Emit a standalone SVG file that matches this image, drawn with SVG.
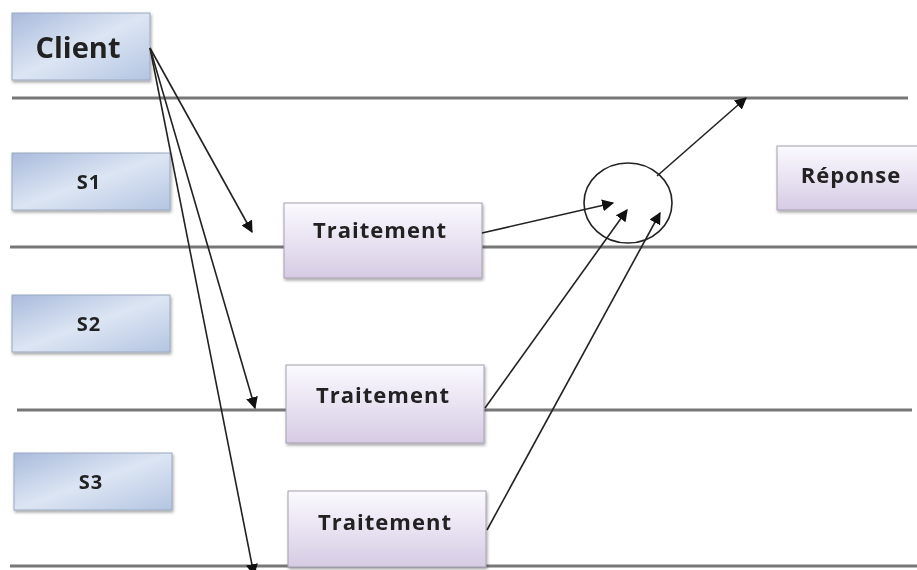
<svg xmlns="http://www.w3.org/2000/svg" width="917" height="570" viewBox="0 0 917 570">
<style>
.lane{stroke:#777;stroke-width:3;fill:none}
.conn{stroke:#222;stroke-width:1.6;fill:none;marker-end:url(#ah)}
.blue{fill:url(#gb);stroke:#9aa8bf;stroke-width:1}
.purp{fill:url(#gp);stroke:#a59fb0;stroke-width:1}
.t{font-family:"Open Sans","Liberation Sans",sans-serif;font-weight:bold;fill:#222;text-anchor:middle}
</style>
<defs>
<linearGradient id="gb" x1="0" y1="0" x2="1" y2="1">
<stop offset="0" stop-color="#a9bbdc"/>
<stop offset="0.5" stop-color="#dce5f3"/>
<stop offset="1" stop-color="#b4c5e2"/>
</linearGradient>
<linearGradient id="gp" x1="0" y1="0" x2="0" y2="1">
<stop offset="0" stop-color="#fbfaff"/>
<stop offset="1" stop-color="#d6cbe4"/>
</linearGradient>
<filter id="sh" x="-10%" y="-10%" width="130%" height="140%">
<feDropShadow dx="1" dy="2" stdDeviation="1.5" flood-color="#000" flood-opacity="0.35"/>
</filter>
<marker id="ah" viewBox="0 0 10 10" refX="9" refY="5" markerWidth="12" markerHeight="12" markerUnits="userSpaceOnUse" orient="auto">
<path d="M0,0 L10,5 L0,10 z" fill="#111"/>
</marker>
</defs>
<g id="lanes">
<line class="lane" x1="12" y1="98" x2="908" y2="98"/>
<line class="lane" x1="10" y1="247" x2="917" y2="247"/>
<line class="lane" x1="17" y1="410" x2="912" y2="410"/>
<line class="lane" x1="10" y1="566" x2="917" y2="566"/>
</g>
<g id="client" filter="url(#sh)"><rect class="blue" x="12" y="13" width="138" height="67"/><text class="t" x="78" y="58" font-size="29">Client</text></g>
<g id="s1" filter="url(#sh)"><rect class="blue" x="12" y="153" width="158" height="57"/><text class="t" x="89" y="189" font-size="20" letter-spacing="1">S1</text></g>
<g id="s2" filter="url(#sh)"><rect class="blue" x="12" y="295" width="158" height="57"/><text class="t" x="89" y="331" font-size="20" letter-spacing="1">S2</text></g>
<g id="s3" filter="url(#sh)"><rect class="blue" x="14" y="453" width="158" height="57"/><text class="t" x="91" y="489" font-size="20" letter-spacing="1">S3</text></g>
<g id="t1" filter="url(#sh)"><rect class="purp" x="284" y="203" width="198" height="75"/><text class="t" x="380" y="238" font-size="22" letter-spacing="1">Traitement</text></g>
<g id="t2" filter="url(#sh)"><rect class="purp" x="286" y="365" width="198" height="78"/><text class="t" x="383" y="403" font-size="22" letter-spacing="1">Traitement</text></g>
<g id="t3" filter="url(#sh)"><rect class="purp" x="288" y="491" width="198" height="76"/><text class="t" x="385" y="530" font-size="22" letter-spacing="1">Traitement</text></g>
<g id="reponse" filter="url(#sh)"><rect class="purp" x="777" y="146" width="142" height="64"/><text class="t" x="851" y="183" font-size="22" letter-spacing="1">Réponse</text></g>
<g id="merge"><ellipse cx="628" cy="203" rx="44" ry="40" fill="none" stroke="#222" stroke-width="1.6"/></g>
<g id="connectors">
<line class="conn" x1="150" y1="48" x2="252" y2="232"/>
<line class="conn" x1="150" y1="48" x2="255" y2="408"/>
<line class="conn" x1="150" y1="48" x2="254" y2="575"/>
<line class="conn" x1="482" y1="233" x2="613" y2="203"/>
<line class="conn" x1="485" y1="408" x2="627" y2="210"/>
<line class="conn" x1="487" y1="530" x2="660" y2="213"/>
<line class="conn" x1="657" y1="176" x2="746" y2="98"/>
</g>
</svg>
